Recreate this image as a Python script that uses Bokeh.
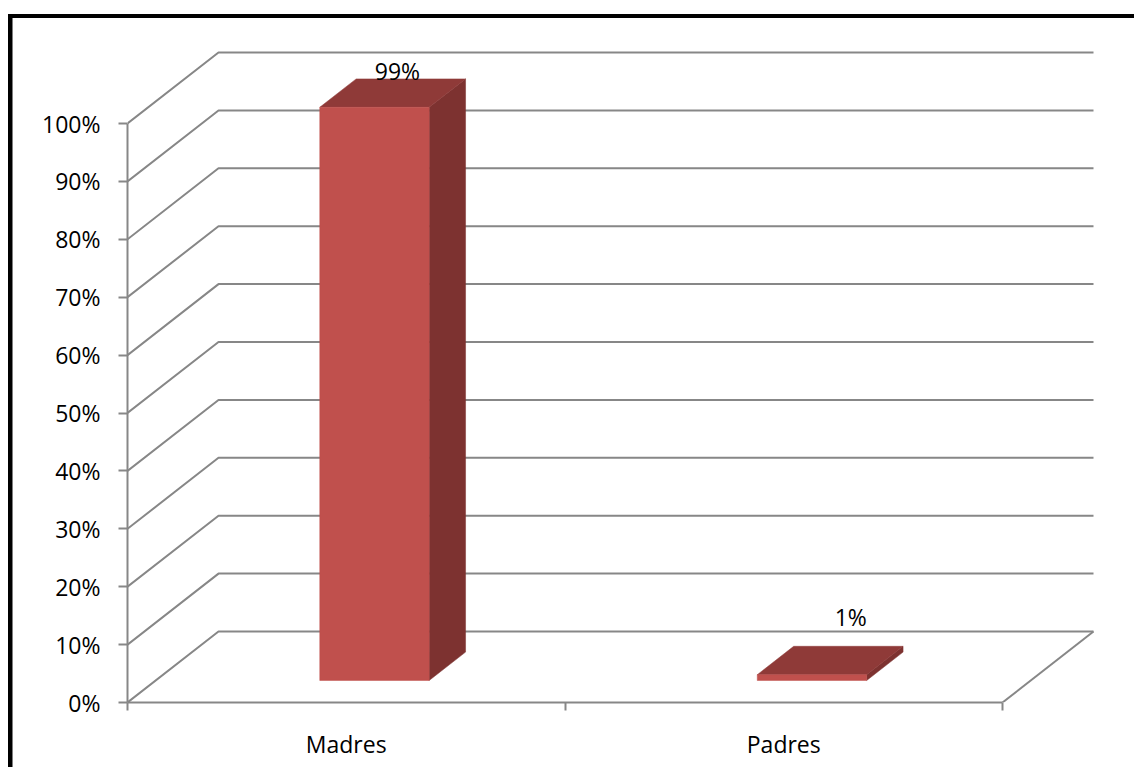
from bokeh.plotting import figure
from bokeh.models import Range1d, FixedTicker, PrintfTickFormatter, GlobalInlineStyleSheet
from bokeh.core.properties import value
from bokeh.embed import file_html
from bokeh.resources import INLINE

# ---- data ----
categories = ["Madres", "Padres"]
percentages = [99, 1]
value_labels = ["99%", "1%"]
y_ticks = [0, 10, 20, 30, 40, 50, 60, 70, 80, 90, 100]

# ---- 3D projection / style constants ----
DX = 0.208      # depth offset, category units
DY = 12.26      # depth offset, percent units
F0, F1 = 0.31, 0.71   # bar front/back depth fractions
BAR_W = 0.25
GRID = "#878787"
FONT = "Open Sans"
FS = "23px"
label_dx = [0.011, 0.047]
label_dy = [1.4, 5.1]

p = figure(width=1134, height=767, output_backend="svg", toolbar_location=None,
           x_range=Range1d(0, 983 / 437.5), y_range=Range1d(0, 662 / 5.79),
           min_border_left=127, min_border_right=24, min_border_top=40, min_border_bottom=65)
# outer black frame (only its left and top edges fall inside the picture),
# painted as the element background and seen through the transparent border area
p.styles = {"background": ("linear-gradient(black, black) 8px 14px / 4.5px 100% no-repeat, "
                           "linear-gradient(black, black) 8px 14px / 100% 4px no-repeat, white")}
p.stylesheets = [GlobalInlineStyleSheet(css="html, body { overflow: hidden; margin: 0; }")]
p.outline_line_color = None
p.xgrid.visible = False
p.ygrid.visible = False
p.background_fill_color = "white"
p.border_fill_color = None

# back wall + side wall gridlines
xs, ys = [], []
for t in y_ticks:
    xs.append([0, DX, len(categories) + DX])
    ys.append([t, t + DY, t + DY])
# floor right edge
xs.append([len(categories), len(categories) + DX])
ys.append([0, DY])
p.multi_line(xs, ys, line_color=GRID, line_width=2)

# bars
front_x, front_y, top_x, top_y, side_x, side_y = [], [], [], [], [], []
for i, v in enumerate(percentages):
    c = i + 0.5
    l, r = c - BAR_W / 2, c + BAR_W / 2
    front_x.append([l + F0 * DX, r + F0 * DX, r + F0 * DX, l + F0 * DX])
    front_y.append([F0 * DY, F0 * DY, v + F0 * DY, v + F0 * DY])
    top_x.append([l + F0 * DX, r + F0 * DX, r + F1 * DX, l + F1 * DX])
    top_y.append([v + F0 * DY, v + F0 * DY, v + F1 * DY, v + F1 * DY])
    side_x.append([r + F0 * DX, r + F1 * DX, r + F1 * DX, r + F0 * DX])
    side_y.append([F0 * DY, F1 * DY, v + F1 * DY, v + F0 * DY])
p.patches(side_x, side_y, fill_color="#7D3230", line_color="#7D3230", line_width=0.5)
p.patches(top_x, top_y, fill_color="#8F3A38", line_color="#8F3A38", line_width=0.5)
p.patches(front_x, front_y, fill_color="#C0504D", line_color="#C0504D", line_width=0.5)

# value labels
lx = [i + 0.5 + (F0 + F1) / 2 * DX + label_dx[i] for i in range(len(categories))]
ly = [v + F1 * DY + label_dy[i] for i, v in enumerate(percentages)]
p.text(lx, ly, text=value_labels, text_font=value(FONT), text_font_size=FS,
       text_align="center", text_baseline="alphabetic", text_color="black")

# y axis
ya = p.yaxis[0]
ya.ticker = FixedTicker(ticks=y_ticks)
ya.formatter = PrintfTickFormatter(format="%d%%")
ya.bounds = (0, 100)
ya.axis_line_color = GRID
ya.axis_line_width = 2
ya.major_tick_line_color = GRID
ya.major_tick_line_width = 2
ya.major_tick_out = 9
ya.major_tick_in = 0
ya.minor_tick_line_color = None
ya.major_label_standoff = 18
ya.major_label_text_font = FONT
ya.major_label_text_font_size = FS
ya.major_label_text_color = "black"

# x axis
xa = p.xaxis[0]
xa.ticker = FixedTicker(ticks=[i + 0.5 for i in range(len(categories))],
                        minor_ticks=list(range(len(categories) + 1)))
xa.major_label_overrides = {i + 0.5: c for i, c in enumerate(categories)}
xa.bounds = (0, len(categories))
xa.axis_line_color = GRID
xa.axis_line_width = 2
xa.major_tick_line_color = None
xa.major_tick_out = 0
xa.major_tick_in = 0
xa.minor_tick_line_color = GRID
xa.minor_tick_line_width = 2
xa.minor_tick_out = 8
xa.minor_tick_in = 0
xa.major_label_standoff = 17
xa.major_label_text_font = FONT
xa.major_label_text_font_size = FS
xa.major_label_text_color = "black"

open("out.html", "w").write(file_html(p, INLINE))
